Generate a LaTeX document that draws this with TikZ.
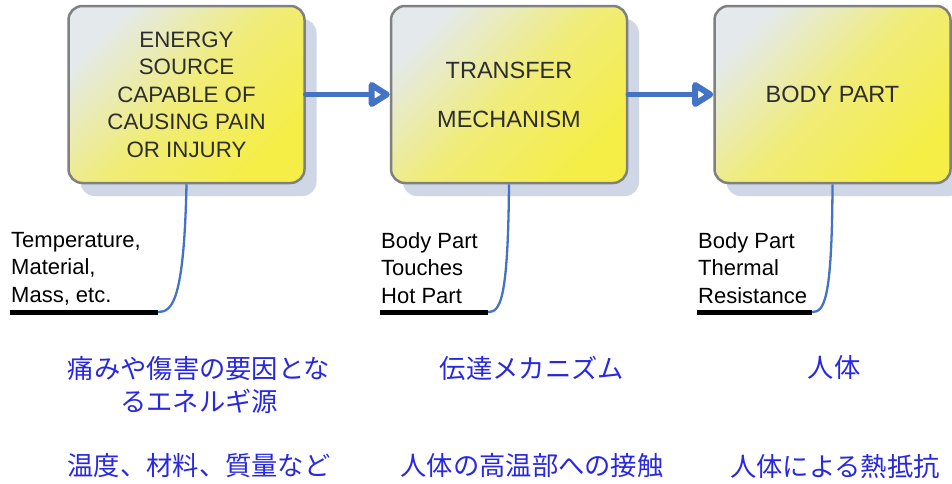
\documentclass[tikz,border=0pt]{standalone}
\usepackage{fontspec}
\setmainfont{Liberation Sans}
\newfontfamily\jpfont{Noto Sans CJK JP}
\usetikzlibrary{arrows.meta,shadows,calc}
\definecolor{shadowc}{RGB}{207,214,230}
\definecolor{boxborder}{RGB}{128,128,128}
\definecolor{boxlight}{RGB}{228,234,236}
\definecolor{boxmid}{RGB}{240,236,120}
\definecolor{boxyellow}{RGB}{245,238,70}
\definecolor{boxtext}{RGB}{45,45,45}
\definecolor{linkblue}{RGB}{68,114,196}
\definecolor{jpblue}{RGB}{40,40,225}
\tikzset{
  x=1pt, y=1pt,
  stagebox/.style={minimum width=236pt, minimum height=177pt, rounded corners=14pt,
    draw=boxborder, line width=2.5pt, top color=boxlight, bottom color=boxyellow,
    middle color=boxmid, shading angle=45, text=boxtext, align=center,
    drop shadow={shadow xshift=12pt, shadow yshift=-13pt, fill=shadowc, opacity=1, draw=none}},
  flowarrow/.style={draw=linkblue, line width=5.5pt, line cap=round,
    -{Triangle[open, length=24pt, width=28pt, round, line width=7.5pt]}},
  calltext/.style={anchor=north west, inner sep=0pt, align=left,
    font=\fontsize{22}{27.5}\selectfont},
  callline/.style={draw=linkblue, line width=2.3pt},
  underbar/.style={draw=black, line width=5pt},
  jptext/.style={font=\jpfont\fontsize{26.3}{33.5}\selectfont, text=jpblue, align=center, inner sep=0pt},
}
\begin{document}
\begin{tikzpicture}
\useasboundingbox (0,0) rectangle (952,-483);
% stage boxes
\node[stagebox, font=\fontsize{22.3}{27.5}\selectfont] (b1) at (186.5,-94.5)
  {ENERGY\\SOURCE\\CAPABLE OF\\CAUSING PAIN\\OR INJURY};
\node[stagebox, font=\fontsize{23.5}{49}\selectfont] (b2) at (509,-94.5)
  {TRANSFER\\MECHANISM};
\node[stagebox, font=\fontsize{23.5}{28}\selectfont] (b3) at (832.5,-94.5)
  {BODY PART};
% flow arrows
\draw[flowarrow] (b1.east) -- (b2.west);
\draw[flowarrow] (b2.east) -- (b3.west);
% callout 1
\node[calltext] (t1) at (11,-232) {Temperature,\\Material,\\Mass, etc.};
\coordinate (u1s) at (10,-312);
\coordinate (u1e) at (158,-312);
\draw[underbar] (u1s) -- (u1e);
\draw[callline] (b1.south) .. controls (184,-302) and (172,-312) .. (u1e);
% callout 2
\node[calltext] (t2) at (381,-232) {Body Part\\Touches\\Hot Part};
\coordinate (u2s) at (380,-312);
\coordinate (u2e) at (488,-312);
\draw[underbar] (u2s) -- (u2e);
\draw[callline] (b2.south) .. controls (508,-302) and (500,-312) .. (u2e);
% callout 3
\node[calltext] (t3) at (698,-232) {Body Part\\Thermal\\Resistance};
\coordinate (u3s) at (697,-312);
\coordinate (u3e) at (812,-312);
\draw[underbar] (u3s) -- (u3e);
\draw[callline] (b3.south) .. controls (832,-302) and (824,-312) .. (u3e);
% Japanese labels
\node[jptext] (j1) at (199,-385) {痛みや傷害の要因とな\\るエネルギ源};
\node[jptext] (j2) at (532,-368) {伝達メカニズム};
\node[jptext] (j3) at (834,-368) {人体};
\node[jptext] (j4) at (199,-466) {温度、材料、質量など};
\node[jptext] (j5) at (532,-466) {人体の高温部への接触};
\node[jptext] (j6) at (835,-466) {人体による熱抵抗};
\end{tikzpicture}
\end{document}
